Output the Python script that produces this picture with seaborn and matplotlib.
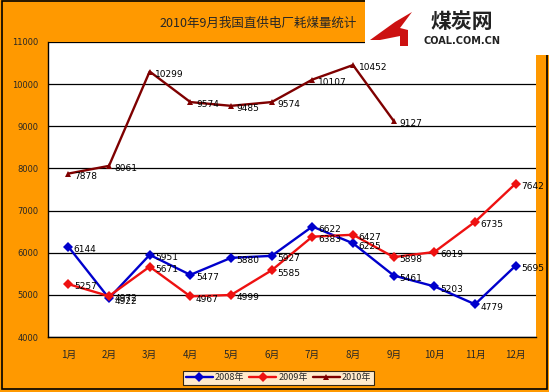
import numpy as np
import pandas as pd
import seaborn as sns
import matplotlib.pyplot as plt
from matplotlib.patches import Rectangle, Polygon

# chart data
months = ["1月", "2月", "3月", "4月", "5月", "6月", "7月", "8月", "9月", "10月", "11月", "12月"]
years = ["2008年", "2009年", "2010年"]
v2008 = [6144, 4922, 5951, 5477, 5880, 5927, 6622, 6225, 5461, 5203, 4779, 5695]
v2009 = [5257, 4972, 5671, 4967, 4999, 5585, 6383, 6427, 5898, 6019, 6735, 7642]
v2010 = [7878, 8061, 10299, 9574, 9485, 9574, 10107, 10452, 9127]
title = "2010年9月我国直供电厂耗煤量统计"

sns.set_theme(style="white")
plt.rcParams["font.family"] = ["Noto Sans CJK SC", "DejaVu Sans"]

rows = []
for yr, vals in zip(years, [v2008, v2009, v2010]):
    for i, v in enumerate(vals):
        rows.append({"idx": i, "value": v, "year": yr})
df = pd.DataFrame(rows)

ORANGE = "#FF9900"
colors = {"2008年": "#0000CC", "2009年": "#EE1111", "2010年": "#7F0000"}
markers = {"2008年": "D", "2009年": "D", "2010年": "^"}

fig = plt.figure(figsize=(5.49, 3.92), dpi=100)
fig.patch.set_facecolor(ORANGE)
ax = fig.add_axes([0.0874, 0.140, 0.889, 0.753])
ax.set_facecolor("white")

sns.lineplot(data=df, x="idx", y="value", hue="year", style="year",
             palette=colors, markers=markers, dashes=False,
             linewidth=1.7, markersize=5, markeredgewidth=0, ax=ax)

# value labels
for yr, vals in zip(years, [v2008, v2009, v2010]):
    for i, v in enumerate(vals):
        ax.annotate(str(v), (i, v), xytext=(4, -2), textcoords="offset points",
                    fontsize=6.5, va="center", ha="left", color="black",
                    family="DejaVu Sans")

ax.set_xlim(-0.5, 11.5)
ax.set_ylim(4000, 11000)
ax.set_yticks(np.arange(4000, 11001, 1000))
ax.set_yticklabels([str(t) for t in range(4000, 11001, 1000)], fontsize=6,
                   family="DejaVu Sans")
ax.yaxis.grid(True, color="black", linewidth=0.9)
ax.set_xticks(range(12))
ax.set_xticklabels(months, fontsize=7)
ax.set_xticks(np.arange(0.5, 11.5, 1), minor=True)
ax.tick_params(axis="x", which="major", length=0, pad=9)
ax.tick_params(axis="x", which="minor", length=3, direction="in", color="black", width=0.8)
ax.tick_params(axis="y", length=0, pad=7)
ax.set_xlabel("")
ax.set_ylabel("")
for side in ["top", "right"]:
    ax.spines[side].set_visible(False)
for side in ["left", "bottom"]:
    ax.spines[side].set_color("black")
    ax.spines[side].set_linewidth(1.0)

handles, labels = ax.get_legend_handles_labels()
leg = fig.legend(handles, labels, loc="center", bbox_to_anchor=(0.507, 0.036),
                 ncol=3, fontsize=6.5, frameon=True, fancybox=False,
                 handlelength=3, columnspacing=0.6, handletextpad=0.2,
                 borderpad=0.3, borderaxespad=0)
leg.get_frame().set_edgecolor("black")
leg.get_frame().set_linewidth(0.8)
ax.get_legend().remove()

fig.text(0.47, 0.94, title, fontsize=9, ha="center", va="center")

# logo box
fig.patches.append(Rectangle((365 / 549, 1 - 55 / 392), 184 / 549, 55 / 392,
                             transform=fig.transFigure, facecolor="white",
                             edgecolor="none", zorder=3))
swoosh = [(370, 40), (395, 22), (412, 12), (400, 28), (408, 30), (408, 46), (400, 46), (400, 36), (380, 40)]
fig.patches.append(Polygon([(x / 549, 1 - y / 392) for x, y in swoosh],
                           closed=True, transform=fig.transFigure,
                           facecolor="#CC1111", edgecolor="none", zorder=4))
fig.text(0.842, 0.944, "煤炭网", fontsize=15, fontweight="bold", color="#222222",
         ha="center", va="center", zorder=4)
fig.text(0.842, 0.895, "COAL.COM.CN", fontsize=7, fontweight="bold", color="#222222",
         ha="center", va="center", zorder=4, family="DejaVu Sans")

# outer border
fig.patches.append(Rectangle((0.003, 0.007), 0.994, 0.99, transform=fig.transFigure,
                             facecolor="none", edgecolor="black", linewidth=1.2, zorder=2))

fig.savefig("out.png", dpi=100, facecolor=fig.get_facecolor())
